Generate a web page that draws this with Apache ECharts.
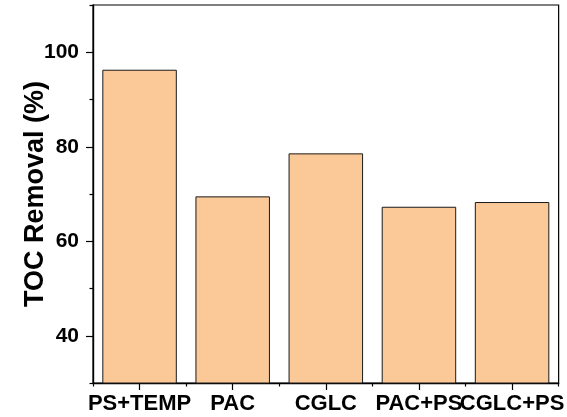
<!DOCTYPE html>
<html>
<head>
<meta charset="utf-8">
<script src="https://cdn.jsdelivr.net/npm/echarts@6/dist/echarts.min.js"></script>
<style>
  html, body { margin: 0; padding: 0; background: #fff; }
  #chart { width: 567px; height: 417px; }
</style>
</head>
<body>
<div id="chart"></div>
<script>
// TOC removal for each treatment
const categories = ['PS+TEMP', 'PAC', 'CGLC', 'PAC+PS', 'CGLC+PS'];
const tocRemoval = [96.3, 69.5, 78.6, 67.3, 68.3];
const majorTicks = [40, 60, 80, 100];
const minorTicks = [30, 50, 70, 90, 110];

const FONT = 'Liberation Sans, Arial, sans-serif';
const chart = echarts.init(document.getElementById('chart'), null, { renderer: 'canvas' });

chart.setOption({
  animation: false,
  backgroundColor: '#fff',
  grid: {
    left: 93, right: 5, top: 5, bottom: 34,
    show: true, borderColor: '#000', borderWidth: 1.2
  },
  xAxis: [
    {
      type: 'category',
      data: categories,
      position: 'bottom',
      axisLine: { show: true, lineStyle: { color: '#000', width: 1.4 } },
      axisTick: { show: true, alignWithLabel: true, length: 7, lineStyle: { color: '#000', width: 1.2 } },
      axisLabel: {
        show: true, interval: 0, margin: 10,
        fontFamily: FONT, fontWeight: 'bold', fontSize: 22, color: '#000'
      },
      splitLine: { show: false }
    },
    {
      type: 'category',
      data: categories,
      position: 'bottom',
      axisLine: { show: false },
      axisTick: { show: true, length: 3.5, lineStyle: { color: '#000', width: 1.2 } },
      axisLabel: { show: false },
      splitLine: { show: false }
    }
  ],
  yAxis: [
    {
      type: 'value',
      min: 30, max: 110, interval: 10,
      position: 'left',
      name: 'TOC Removal (%)',
      nameLocation: 'middle',
      nameGap: 44,
      nameRotate: 90,
      nameMoveOverlap: false,
      nameTextStyle: { fontFamily: FONT, fontWeight: 'bold', fontSize: 27, color: '#000' },
      axisLine: { show: true, lineStyle: { color: '#000', width: 1.4 } },
      axisTick: { show: true, length: 7, customValues: majorTicks, lineStyle: { color: '#000', width: 1.2 } },
      axisLabel: {
        show: true, customValues: majorTicks, margin: 14,
        fontFamily: FONT, fontWeight: 'bold', fontSize: 21, color: '#000'
      },
      splitLine: { show: false }
    },
    {
      type: 'value',
      min: 30, max: 110, interval: 10,
      position: 'left',
      axisLine: { show: false },
      axisTick: { show: true, length: 3.5, customValues: minorTicks, lineStyle: { color: '#000', width: 1.2 } },
      axisLabel: { show: false },
      splitLine: { show: false }
    }
  ],
  series: [
    {
      type: 'bar',
      xAxisIndex: 0,
      yAxisIndex: 0,
      data: tocRemoval,
      barWidth: '80%',
      itemStyle: { color: '#FBC897', borderColor: '#1a1a1a', borderWidth: 1 }
    }
  ]
});
</script>
</body>
</html>
